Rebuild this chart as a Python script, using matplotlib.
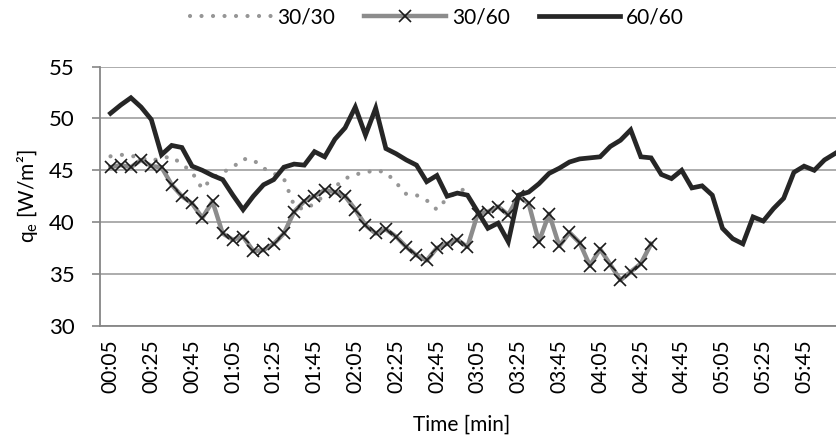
import matplotlib
matplotlib.use("Agg")
import matplotlib.pyplot as plt
import numpy as np

plt.rcParams['font.family'] = ['Lato', 'DejaVu Sans']
plt.rcParams['mathtext.fontset'] = 'custom'
plt.rcParams['mathtext.rm'] = 'Lato'
plt.rcParams['mathtext.it'] = 'Lato:italic'

# time step 5 s, first sample at 00:05
tick_labels = ["00:05", "00:25", "00:45", "01:05", "01:25", "01:45", "02:05",
               "02:25", "02:45", "03:05", "03:25", "03:45", "04:05", "04:25",
               "04:45", "05:05", "05:25", "05:45"]

s30_30 = [46.35, 46.5, 46.4, 46.2, 45.9, 46.2, 46.3, 45.6, 44.8, 43.2,
          44.3, 44.8, 45.3, 46.1, 46.0, 45.2, 44.7, 44.2, 41.6, 41.2,
          41.8, 42.6, 43.4, 44.2, 44.6, 44.8, 45.0, 44.8, 43.8, 42.7,
          42.6, 42.1, 41.2, 42.3, 42.9, 43.3]

s30_60 = [45.3, 45.5, 45.3, 46.0, 45.4, 45.3, 43.6, 42.5, 41.8, 40.4,
          42.0, 38.9, 38.3, 38.6, 37.2, 37.3, 37.9, 38.9, 41.0, 42.0,
          42.5, 43.1, 42.9, 42.5, 41.2, 39.7, 38.9, 39.3, 38.6, 37.6,
          36.8, 36.3, 37.5, 37.9, 38.3, 37.6, 40.8, 41.0, 41.5, 40.7,
          42.5, 41.8, 38.1, 40.8, 37.7, 39.0, 38.0, 35.8, 37.4, 35.9,
          34.4, 35.2, 36.0, 37.9]

s60_60 = [50.5, 51.3, 52.0, 51.1, 49.9, 46.5, 47.4, 47.2, 45.4, 45.0,
          44.5, 44.1, 42.6, 41.2, 42.5, 43.6, 44.1, 45.3, 45.6, 45.5,
          46.8, 46.3, 48.0, 49.1, 51.1, 48.4, 51.0, 47.1, 46.6, 46.0,
          45.5, 43.9, 44.5, 42.5, 42.8, 42.6, 41.0, 39.4, 39.9, 38.1,
          42.6, 42.9, 43.7, 44.7, 45.2, 45.8, 46.1, 46.2, 46.3, 47.3,
          47.9, 48.9, 46.3, 46.2, 44.6, 44.2, 45.0, 43.3, 43.5, 42.6,
          39.4, 38.4, 37.9, 40.5, 40.1, 41.3, 42.3, 44.8, 45.4, 45.0,
          46.0, 46.6, 47.2]

W, H = 836, 444
FS = 15
fig = plt.figure(figsize=(W / 100, H / 100), dpi=100)
ax = fig.add_axes([100 / W, 1 - 325.7 / H, (836 - 100) / W, (325.7 - 66.7) / H])

x1 = np.arange(len(s30_30))
x2 = np.arange(len(s30_60))
x3 = np.arange(len(s60_60))

l1, = ax.plot(x1, s30_30, color='#969696', lw=3.0, linestyle=(0, (0.01, 2.75)),
              dash_capstyle='round', solid_capstyle='round', label='30/30', zorder=2)
l2, = ax.plot(x2, s30_60, color='#8c8c8c', lw=3.2, marker='x', markersize=8,
              markeredgecolor='#1a1a1a', markeredgewidth=1.2, label='30/60', zorder=3)
l3, = ax.plot(x3, s60_60, color='#262626', lw=3.4, solid_joinstyle='miter',
              label='60/60', zorder=4)

ax.set_ylim(30, 55)
ax.set_yticks([30, 35, 40, 45, 50, 55])
ax.set_xlim(-1.03, 71.13)
ax.set_xticks(np.arange(0, 4 * len(tick_labels), 4))
ax.set_xticklabels(tick_labels, rotation=90, fontsize=FS)
ax.tick_params(axis='x', length=0, pad=10)
ax.tick_params(axis='y', length=6, width=1.2, color='#868686', labelsize=16, pad=12)

ax.grid(axis='y', color='#a6a6a6', lw=1.3)
ax.set_axisbelow(True)
for s in ['top', 'right']:
    ax.spines[s].set_visible(False)
for s in ['left', 'bottom']:
    ax.spines[s].set_color('#868686')
    ax.spines[s].set_linewidth(1.3)

fig.text(27 / W, 1 - 196 / H, 'q$_{\\mathrm{e}}$ [W/m²]', rotation=90,
         ha='center', va='center', fontsize=FS)
fig.text(462 / W, 1 - 425 / H, 'Time [min]', ha='center', va='center', fontsize=FS)

fig.legend(handles=[l1, l2, l3], loc='center', bbox_to_anchor=(437 / W, 1 - 17 / H),
           ncol=3, frameon=False, fontsize=FS, handlelength=3.9, handletextpad=0.3,
           columnspacing=1.4, numpoints=1)

fig.savefig('out.png', dpi=100)
